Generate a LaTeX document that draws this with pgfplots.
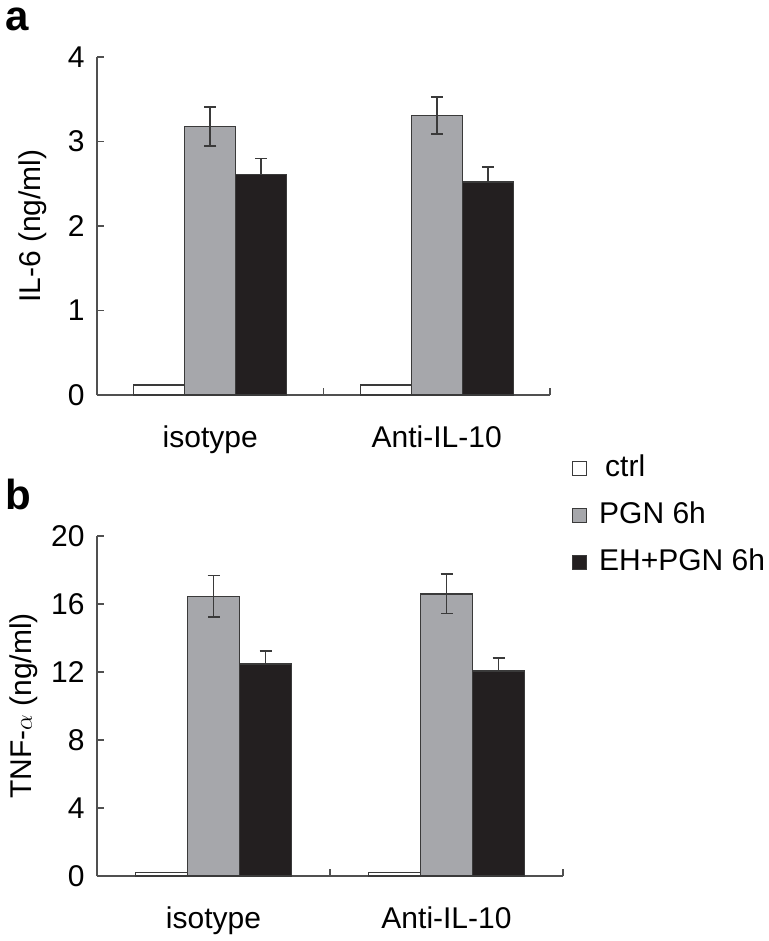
\documentclass[border=0pt]{standalone}
\usepackage{fontspec}
\setmainfont{Liberation Sans}
\usepackage{pgfplots}
\pgfplotsset{compat=1.18}
\definecolor{bargray}{HTML}{A6A7AB}
\definecolor{barblack}{HTML}{231F20}
\definecolor{edge}{HTML}{3A3A3A}
\definecolor{axisgray}{HTML}{505050}
\pgfplotsset{
  panel/.style={
    scale only axis,
    ybar=0pt,
    xmin=0.5, xmax=2.5, ymin=0,
    axis x line*=bottom, axis y line*=left,
    axis line style={axisgray, line width=1.5bp, -},
    xtick={0.5,1.5,2.5},
    x tick label as interval,
    xticklabels={isotype, Anti-IL-10},
    tick align=inside,
    major tick length=7bp,
    tick style={axisgray, line width=1.5bp},
    font=\fontsize{30bp}{36bp}\selectfont,
    ticklabel style={font=\fontsize{30bp}{36bp}\selectfont},
    /pgf/number format/assume math mode=true,
    xticklabel style={yshift=-27bp},
    yticklabel style={xshift=-9bp},
    every axis y label/.style={at={(axis description cs:0,0.5)}, rotate=90, anchor=center},
    legend image code/.code={\draw[#1, line width=1.2bp] (0bp,-7bp) rectangle (14bp,7bp); \path[draw=none, fill=none] (0bp,0bp) -- (25bp,0bp);},
  },
  ctrlbar/.style={fill=white, draw=edge, line width=1.4bp},
  pgnbar/.style={fill=bargray, draw=edge, line width=1.4bp,
    error bars/.cd, y dir=both, y explicit,
    error mark=|,
    error bar style={line width=1.6bp, color=edge},
    error mark options={line width=1.6bp, color=edge, mark size=6bp}},
  ehbar/.style={fill=barblack, draw=edge, line width=1.4bp,
    error bars/.cd, y dir=plus, y explicit,
    error mark=|,
    error bar style={line width=1.6bp, color=edge},
    error mark options={line width=1.6bp, color=edge, mark size=6bp}},
}
\begin{document}
\begin{tikzpicture}
\path[use as bounding box] (0bp,0bp) rectangle (769bp,-941bp);
\node[anchor=north west, inner sep=0pt, font=\fontsize{42bp}{42bp}\selectfont\bfseries] at (5bp,-8bp) {a};
\node[anchor=north west, inner sep=0pt, font=\fontsize{42bp}{42bp}\selectfont\bfseries] at (5bp,-479bp) {b};

% Panel a
\begin{axis}[panel,
  at={(97bp,-395bp)}, anchor=south west,
  width=453bp, height=338bp,
  bar width=51bp,
  ymax=4, ytick={0,1,2,3,4},
  ylabel={IL-6 (ng/ml)},
  ylabel style={yshift=64bp},
]
\addplot[ctrlbar] coordinates {(1,0.12) (2,0.12)};
\addplot[pgnbar] coordinates {(1,3.18) +- (0,0.23) (2,3.31) +- (0,0.22)};
\addplot[ehbar] coordinates {(1,2.61) +- (0,0.19) (2,2.52) +- (0,0.18)};
\end{axis}

% Panel b
\begin{axis}[panel,
  at={(97bp,-876bp)}, anchor=south west,
  width=466bp, height=340bp,
  bar width=52bp,
  ymax=20, ytick={0,4,8,12,16,20},
  ylabel={TNF-$\alpha$ (ng/ml)},
  ylabel style={yshift=73bp},
  legend style={at={(rel axis cs:1.018,1.246)}, anchor=north west, draw=none, fill=none,
    row sep=15bp, inner sep=0pt,
    nodes={font=\fontsize{30bp}{36bp}\selectfont, inner sep=2bp, text height=22bp, text depth=6bp}},
  legend cell align=left,
]
\addplot[ctrlbar] coordinates {(1,0.22) (2,0.22)};
\addlegendentry{\hspace{6bp}ctrl}
\addplot[pgnbar] coordinates {(1,16.45) +- (0,1.23) (2,16.6) +- (0,1.15)};
\addlegendentry{PGN 6h}
\addplot[ehbar] coordinates {(1,12.47) +- (0,0.76) (2,12.06) +- (0,0.75)};
\addlegendentry{EH+PGN 6h}
\end{axis}
\end{tikzpicture}
\end{document}
